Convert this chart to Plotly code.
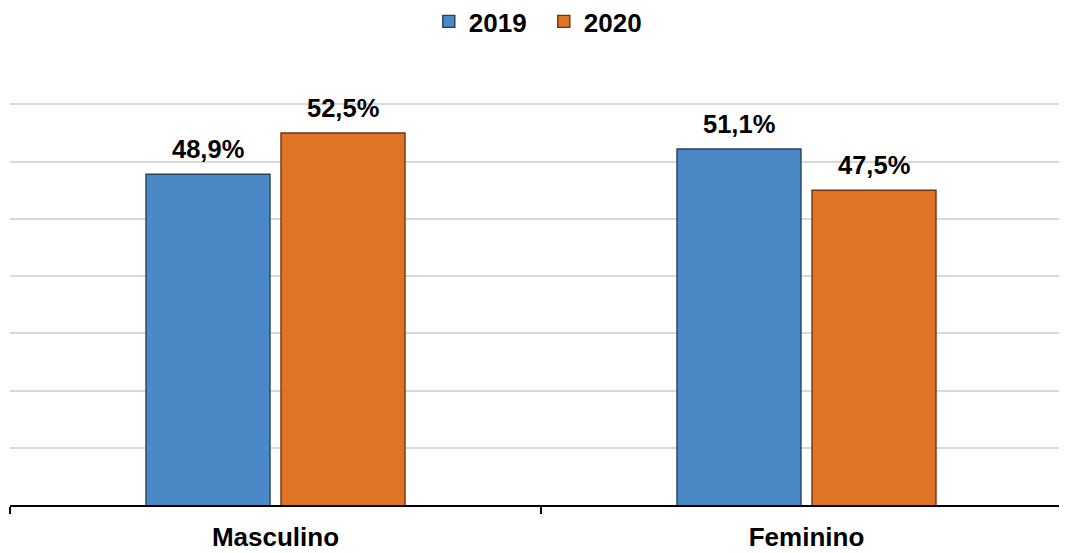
import plotly.graph_objects as go

categories = ["Masculino", "Feminino"]
series_names = ["2019", "2020"]
values_2019 = [48.9, 51.1]
values_2020 = [52.5, 47.5]
labels_2019 = ["48,9%", "51,1%"]
labels_2020 = ["52,5%", "47,5%"]

colors = {"2019": "#4b88c6", "2020": "#e07426"}
edge = {"2019": "#24425f", "2020": "#6e3410"}

FONT = "Liberation Sans, Arial, sans-serif"
# page body has an 8px margin, so the figure is sized to end at the window edge
W, H = 1059, 545
ml, mr, mt, mb = 2, 0, 92.6, 48
bargap = 0.4915
bargroupgap = 0.0815
xmax = 1.4906
cat_px = (W - ml - mr) / (xmax + 0.5)
ymin, ymax = 20, 55.3

fig = go.Figure()
for name, vals in [("2019", values_2019), ("2020", values_2020)]:
    fig.add_trace(go.Bar(
        x=categories, y=vals, name=name,
        marker=dict(color=colors[name], line=dict(color=edge[name], width=1.4)),
        cliponaxis=False,
    ))

annotations = []
shift = (1 - bargap) / 4 * cat_px
for sign, vals, labs in [(-1, values_2019, labels_2019), (1, values_2020, labels_2020)]:
    for c, v, t in zip(categories, vals, labs):
        annotations.append(dict(
            x=c, y=v, xref="x", yref="y", text="<b>%s</b>" % t,
            showarrow=False, yanchor="bottom", xshift=sign * shift, yshift=9,
            font=dict(family=FONT, size=25.5, color="#000000"),
        ))

plot_h = H - mt - mb
fig.update_layout(
    width=W, height=H,
    margin=dict(l=ml, r=mr, t=mt, b=mb, autoexpand=False),
    paper_bgcolor="white", plot_bgcolor="white",
    barmode="group", bargap=bargap, bargroupgap=bargroupgap,
    font=dict(family=FONT, size=24, color="#000000"),
    showlegend=True,
    legend=dict(orientation="h", x=0.505, xanchor="center", y=1 + (mt - 13) / plot_h,
                yanchor="middle",
                font=dict(family=FONT, size=26, color="#000000", weight="bold"),
                itemwidth=30, entrywidth=70, traceorder="normal", bgcolor="rgba(0,0,0,0)"),
    annotations=annotations,
    xaxis=dict(type="category", range=[-0.5, xmax], showline=True, linecolor="#000000",
               linewidth=1.5, ticks="outside", tickson="boundaries", ticklen=7,
               tickcolor="#000000", tickwidth=1.5, showgrid=False, automargin=False,
               ticklabelstandoff=8,
               tickfont=dict(family=FONT, size=26, color="#000000", weight="bold")),
    yaxis=dict(range=[ymin, ymax], dtick=5, tick0=0, showticklabels=False, showline=False,
               gridcolor="#d9d9d9", gridwidth=1.5, zeroline=False, ticks="", automargin=False),
)

fig.write_html("out.html")
